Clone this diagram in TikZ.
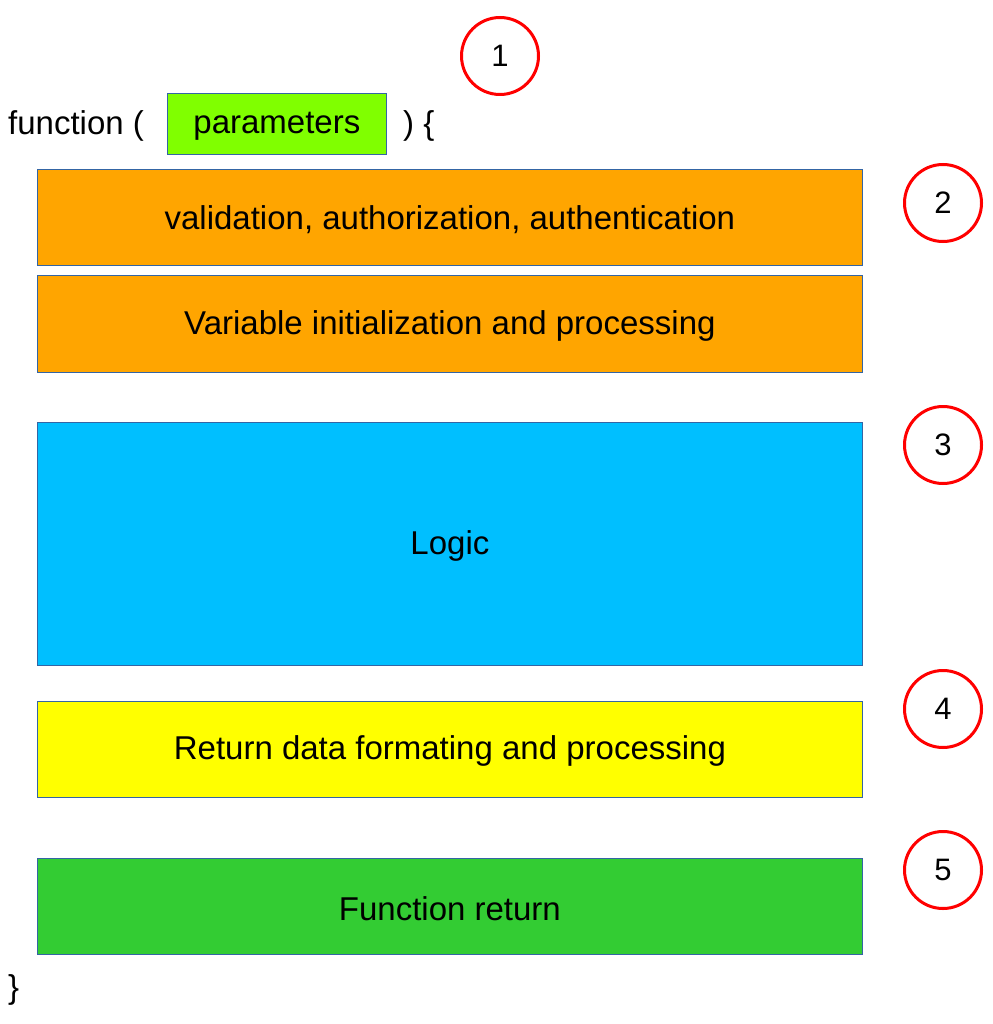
\documentclass[tikz,border=0pt]{standalone}
\usepackage{fontspec}
\setmainfont{Liberation Sans}
\definecolor{bordr}{HTML}{3465A4}
\definecolor{paramg}{HTML}{80FF00}
\definecolor{orng}{HTML}{FFA500}
\definecolor{skyb}{HTML}{00BFFF}
\definecolor{yell}{HTML}{FFFF00}
\definecolor{retg}{HTML}{33CC33}
\definecolor{circred}{HTML}{FF0000}
\begin{document}
\begin{tikzpicture}[x=1pt,y=-1pt,
  blockbox/.style={draw=bordr,line width=0.8pt,minimum width=825pt,inner sep=0pt,anchor=north west},
  blocktxt/.style={inner sep=0pt,font=\fontsize{33}{40}\selectfont},
  numcirc/.style={draw=circred,line width=3pt,circle,minimum size=77pt,inner sep=0pt,font=\fontsize{31}{36}\selectfont},
  codetxt/.style={anchor=west,inner sep=0pt,font=\fontsize{33}{40}\selectfont}]
\useasboundingbox (0,0) rectangle (992,1024);
\node[codetxt] (fn) at (8,126) {function (};
\node[draw=bordr,line width=0.8pt,fill=paramg,minimum width=219pt,minimum height=61pt,inner sep=0pt,anchor=north west] (par) at (167,93) {};
\node[blocktxt] (partxt) at ([yshift=-2pt]par.center) {parameters};
\node[codetxt] (cl) at (403,126) {) \{};
\node[blockbox,fill=orng,minimum height=96pt] (val) at (37,169) {};
\node[blocktxt] at ([yshift=-2pt]val.center) {validation, authorization, authentication};
\node[blockbox,fill=orng,minimum height=97pt] (var) at (37,275) {};
\node[blocktxt] at ([yshift=-2pt]var.center) {Variable initialization and processing};
\node[blockbox,fill=skyb,minimum height=243pt] (logic) at (37,422) {};
\node[blocktxt] at ([yshift=-2pt]logic.center) {Logic};
\node[blockbox,fill=yell,minimum height=96pt] (ret) at (37,701) {};
\node[blocktxt] at ([yshift=-2pt]ret.center) {Return data formating and processing};
\node[blockbox,fill=retg,minimum height=96pt] (fret) at (37,858) {};
\node[blocktxt] at ([yshift=-2pt]fret.center) {Function return};
\node[codetxt] (close) at (8,990) {\}};
\node[numcirc] (c1) at (500,56) {1};
\node[numcirc] (c2) at (943,203) {2};
\node[numcirc] (c3) at (943,445) {3};
\node[numcirc] (c4) at (943,709) {4};
\node[numcirc] (c5) at (943,870) {5};
\end{tikzpicture}
\end{document}
